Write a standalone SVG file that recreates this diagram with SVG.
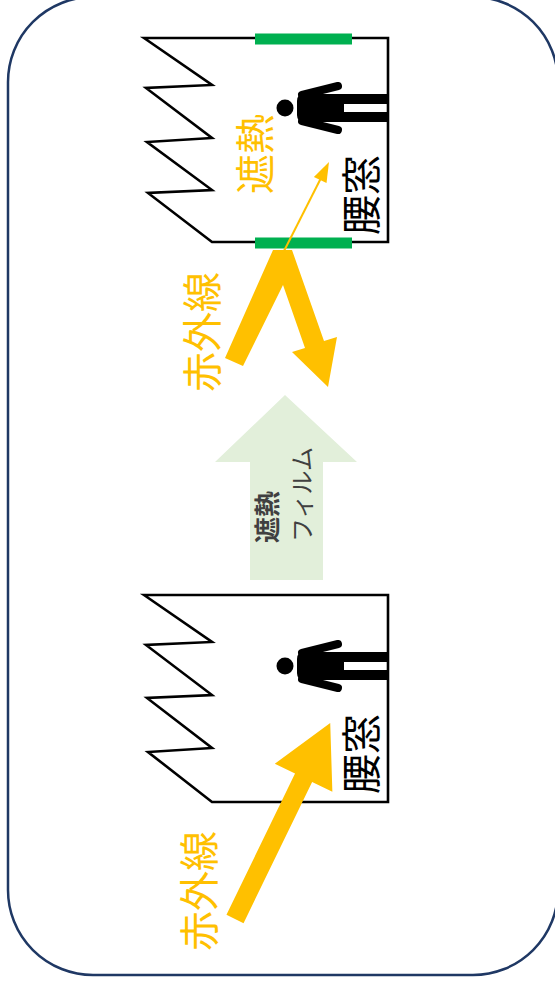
<svg xmlns="http://www.w3.org/2000/svg" xmlns:xlink="http://www.w3.org/1999/xlink" width="555" height="985" viewBox="0 0 555 985">
  <style>
    .frame { fill: #ffffff; stroke: #1f3864; stroke-width: 2.5; }
    .wall { fill: none; stroke: #000000; stroke-width: 2.6; stroke-linejoin: miter; }
    .glass { stroke: #00b050; stroke-width: 11; fill: none; }
    .ray { fill: #ffc000; }
    .ray-thin { stroke: #ffc000; stroke-width: 2; fill: none; }
    .film { fill: #e2efda; }
    .lbl { font-family: "Noto Sans CJK JP", "Noto Sans", sans-serif; text-anchor: middle; dominant-baseline: central; }
    .ir { fill: #ffc000; font-size: 40px; }
    .win { fill: #000000; font-size: 40px; }
    .film-txt { fill: #404040; font-family: "Noto Sans CJK JP", "Noto Sans", sans-serif; dominant-baseline: central; }
  </style>
  <defs>
    <!-- standing worker, head to the left, feet to the right -->
    <g id="person" fill="#000000">
      <circle cx="285" cy="108" r="8.5"/>
      <path d="M344,94 H304 Q297,94 297,101 V115 Q297,122 304,122 H344 Z"/>
      <line x1="302" y1="95" x2="338" y2="86" stroke="#000" stroke-width="8" stroke-linecap="round"/>
      <line x1="302" y1="121" x2="338" y2="130" stroke="#000" stroke-width="8" stroke-linecap="round"/>
      <rect x="342" y="94" width="45" height="10"/>
      <rect x="342" y="112" width="45" height="10"/>
    </g>
  </defs>

  <rect class="frame" x="8" y="-3" width="550" height="978" rx="85" ry="85"/>

  <!-- factory after film: saw-tooth roof, walls, glazed openings -->
  <g id="factory-after">
    <path class="wall" d="M144,38 L212,85 L146,88 L212,138 L147,142 L212,190 L148,193 L212,242 L388,242 L388,38 Z"/>
    <line class="glass" x1="255" y1="39" x2="352" y2="39"/>
    <line class="glass" x1="255" y1="243" x2="352" y2="243"/>
    <use xlink:href="#person"/>
    <text class="lbl win" transform="translate(359,195) rotate(-90)">腰窓</text>
    <text class="lbl ir" transform="translate(253,154) rotate(-90)">遮熱</text>
  </g>

  <!-- factory before film -->
  <g id="factory-before">
    <path class="wall" d="M144,595 L212,642 L146,645 L212,695 L147,698 L212,748 L148,752 L212,802 L388,802 L388,595 Z"/>
    <use xlink:href="#person" transform="translate(0,558)"/>
    <text class="lbl win" transform="translate(359,754) rotate(-90)">腰窓</text>
  </g>

  <!-- film step arrow -->
  <g id="film-arrow">
    <polygon class="film" points="285,395 357,462 323,462 323,580 250,580 250,462 215,462"/>
    <text class="film-txt" font-size="26" font-weight="bold" transform="translate(265,543) rotate(-90)">遮熱</text>
    <text class="film-txt" font-size="24" transform="translate(300,542) rotate(-90)">フィルム</text>
  </g>

  <!-- infrared rays -->
  <g id="rays">
    <!-- reflected ray at the filmed window -->
    <polygon class="ray" points="225,358 273,250 292,250 324,341 337,337 328,387 292,352 305,348 283,285 243,366"/>
    <!-- small transmitted part -->
    <line class="ray-thin" x1="283" y1="253" x2="321" y2="178"/>
    <polygon class="ray" points="329,162 326.5,183 313.9,176.9"/>
    <!-- ray entering the unfilmed window -->
    <polygon class="ray" transform="translate(235,919) rotate(-64.1)" points="0,-9.5 157,-9.5 157,-32 218,0 157,32 157,9.5 0,9.5"/>
    <text class="lbl ir" transform="translate(200,332) rotate(-90)">赤外線</text>
    <text class="lbl ir" transform="translate(197,891) rotate(-90)">赤外線</text>
  </g>
</svg>
